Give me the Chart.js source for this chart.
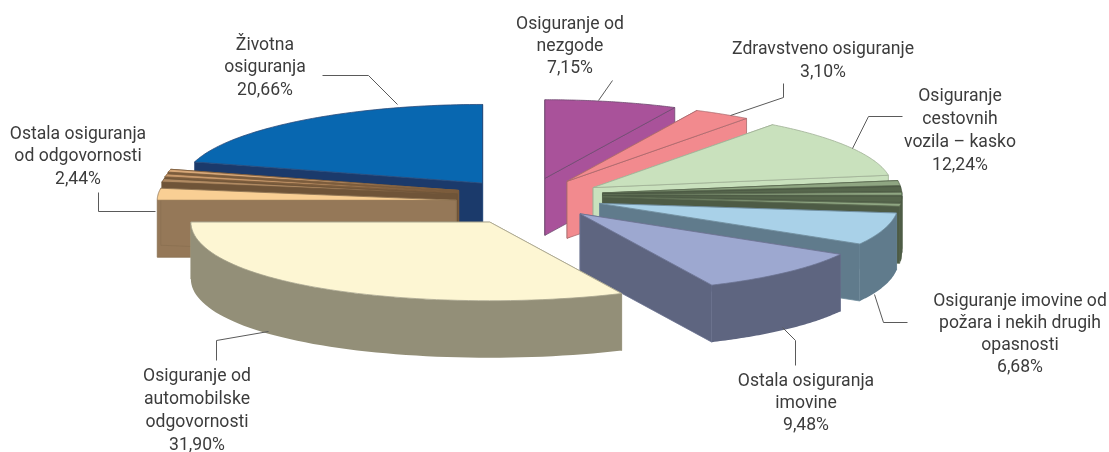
<!DOCTYPE html>
<html><head><meta charset="utf-8">
<style>html,body{margin:0;padding:0;background:#fff}canvas{display:block}</style>
<script src="https://cdn.jsdelivr.net/npm/chart.js@4"></script>
</head><body><canvas id="c" width="1109" height="452"></canvas>
<script>
// Data (clockwise from 12 o'clock)
const categories = ["Osiguranje od nezgode","Zdravstveno osiguranje","Osiguranje cestovnih vozila – kasko","Ostalo a","Ostalo b","Ostalo c","Ostalo d","Ostalo e","Osiguranje imovine od požara i nekih drugih opasnosti","Ostala osiguranja imovine","Osiguranje od automobilske odgovornosti","Ostala osiguranja od odgovornosti","Ostalo f","Ostalo g","Ostalo h","Životna osiguranja"];
const values = [7.15,3.10,12.24,1.00,1.00,0.60,1.26,0.60,6.68,9.48,31.90,2.44,0.70,0.60,0.59,20.66];
const calloutText = [
 {lines:["Životna","osiguranja","20,66%"]},
 {lines:["Ostala osiguranja","od odgovornosti","2,44%"]},
 {lines:["Osiguranje od","nezgode","7,15%"]},
 {lines:["Zdravstveno osiguranje","3,10%"]},
 {lines:["Osiguranje","cestovnih","vozila – kasko","12,24%"]},
 {lines:["Osiguranje imovine od","požara i nekih drugih","opasnosti","6,68%"]},
 {lines:["Ostala osiguranja","imovine","9,48%"]},
 {lines:["Osiguranje od","automobilske","odgovornosti","31,90%"]}
];
// Style
const topColors =  ["#a9529a","#f28a8e","#c9e1bd","#8fa682","#56664c","#8fa682","#56664c","#8fa682","#a9d1e8","#9da8d0","#fdf6d3","#f9cf94","#b08a62","#c99a6c","#d8a878","#0867b0"];
const wallColors = ["#a9529a","#f28a8e","#c9e1bd","#4d5b45","#4d5b45","#4d5b45","#4d5b45","#4d5b45","#607b8c","#5e6580","#938f78","#957858","#6f5438","#7b5c3c","#7b5c3c","#1b3a6b"];
const edgeColors = ["#6e4a70","#a8686c","#9fb095","#5a6a50","#4d5b45","#5a6a50","#4d5b45","#5a6a50","#6f8b9c","#6b7290","#a5a18a","#8a7050","#6f5438","#7b5c3c","#7b5c3c","#2a4a7a"];
const explode = [22,52,62,63,63,63,63,63,63,60,93,84,84,84,84,95];
const lift =    [-16,-7,-4,-5,-5,-5,-5,-5,-2,2,1.5,2,-2,-3,-4,3];
const paintOrder = [15,14,13,12,11,0,1,2,3,4,5,6,7,8,9,10];
const squash = 0.263, depth = 57, persp = 0.00001;
const textPos = [[265,45.5,22.5],[78,134.5,22.5],[570,24.5,22],[823,49.5,23],[960,96.5,23],[1020,301.5,22],[806,381.5,22],[197,376.5,23]];
const leaders = [
 [[322,75],[368,75],[397,104]],
 [[98,192],[98,211],[155,211]],
 [[598,100],[612,80]],
 [[730,115],[783,97],[783,83]],
 [[852,148],[868,116],[902,116]],
 [[874,294],[883,322],[907,322]],
 [[782,327],[795,340],[795,365]],
 [[268,331],[216,340],[216,360]]
];

const pie3d = {
  id:'pie3d',
  beforeDatasetDraw(){ return false; },
  afterDatasetsDraw(chart){
    const ctx = chart.ctx, arcs = chart.getDatasetMeta(0).data;
    paintOrder.forEach(i=>{
      const a = arcs[i], s = a.startAngle, e = a.endAngle, R = a.outerRadius, m=(s+e)/2;
      const ax = a.x + explode[i]*Math.cos(m), ay = a.y + explode[i]*squash*Math.sin(m) + lift[i];
      const P = (t,r)=>{const dx=r*Math.cos(t),dy=r*squash*Math.sin(t);return [ax+dx*(1+persp*Math.max(dy,0)*Math.max(dy,0)),ay+dy];};
      const steps = 60, arcPts=[];
      for(let k=0;k<=steps;k++){arcPts.push(P(s+(e-s)*k/steps,R));}
      const poly = (pts,fill,stroke)=>{ctx.beginPath();pts.forEach((p,j)=>j?ctx.lineTo(p[0],p[1]):ctx.moveTo(p[0],p[1]));ctx.closePath();ctx.fillStyle=fill;ctx.fill();if(stroke){ctx.strokeStyle=stroke;ctx.lineWidth=0.8;ctx.stroke();}};
      const down = p=>[p[0],p[1]+depth];
      const A=[ax,ay];
      ctx.save();
      [arcPts[0],arcPts[steps]].forEach(r=>{ poly([A,r,down(r),down(A)],wallColors[i],edgeColors[i]); });
      const rim = arcPts.filter((p,k)=>Math.sin(s+(e-s)*k/steps)>-0.02);
      if(rim.length>1){ poly(rim.concat(rim.slice().reverse().map(down)),wallColors[i]); }
      poly([A].concat(arcPts),topColors[i],edgeColors[i]);
      ctx.restore();
    });
    ctx.save();
    ctx.strokeStyle='#5a5a5a';ctx.lineWidth=1;
    leaders.forEach(l=>{ctx.beginPath();l.forEach((p,j)=>j?ctx.lineTo(p[0]+.5,p[1]+.5):ctx.moveTo(p[0]+.5,p[1]+.5));ctx.stroke();});
    ctx.fillStyle='#3c3c3c';ctx.font='17.6px Roboto';ctx.textAlign='center';ctx.textBaseline='middle';
    calloutText.forEach((c,i)=>{const [x,y,h]=textPos[i];c.lines.forEach((t,j)=>ctx.fillText(t,x,y+j*h));});
    ctx.restore();
  }
};

new Chart(document.getElementById('c'),{
  type:'pie',
  data:{labels:categories,datasets:[{data:values,backgroundColor:topColors,borderWidth:0}]},
  options:{responsive:false,animation:false,radius:299,
    layout:{padding:{left:0,top:0,right:29,bottom:52}},
    plugins:{legend:{display:false},tooltip:{enabled:false}}},
  plugins:[pie3d]
});
</script></body></html>
